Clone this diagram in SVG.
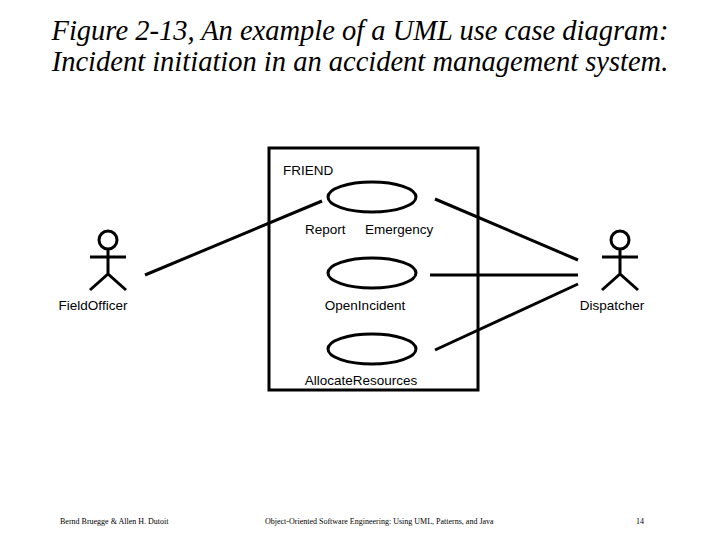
<svg xmlns="http://www.w3.org/2000/svg" width="720" height="540" viewBox="0 0 720 540">
<style>
.s{fill:none;stroke:#000;stroke-width:3}
.t{font-family:"Liberation Sans",Arial,sans-serif;font-size:13.5px;fill:#000}
.h{font-family:"Liberation Serif","Times New Roman",serif;font-style:italic;font-size:28.5px;fill:#000}
.f{font-family:"Liberation Serif","Times New Roman",serif;font-size:8px;fill:#000}
</style>
<rect width="720" height="540" fill="#fff"/>
<text class="h" x="360" y="40" text-anchor="middle">Figure 2-13, An example of a UML use case diagram:</text>
<text class="h" x="360" y="71" text-anchor="middle">Incident initiation in an accident management system.</text>
<g id="system"><rect class="s" x="269" y="148" width="209" height="242"/><text class="t" x="283" y="175">FRIEND</text></g>
<g id="report"><ellipse class="s" cx="372" cy="197" rx="44" ry="15"/><text class="t" x="305" y="234">Report</text><text class="t" x="365" y="234">Emergency</text></g>
<g id="open"><ellipse class="s" cx="372" cy="273" rx="44" ry="15"/><text class="t" x="365" y="310" text-anchor="middle">OpenIncident</text></g>
<g id="allocate"><ellipse class="s" cx="372" cy="349" rx="44" ry="15"/><text class="t" x="361" y="385" text-anchor="middle">AllocateResources</text></g>
<g id="fieldofficer"><circle class="s" cx="108" cy="240" r="9"/><path class="s" d="M108 249V274M90 257H126M90 290L108 274L126 290"/><text class="t" x="93" y="310" text-anchor="middle">FieldOfficer</text></g>
<g id="dispatcher"><circle class="s" cx="620" cy="240" r="9"/><path class="s" d="M620 249V274M602 257H638M602 290L620 274L638 290"/><text class="t" x="612" y="310" text-anchor="middle">Dispatcher</text></g>
<g id="connectors" class="s">
<line x1="145" y1="275" x2="322" y2="201"/>
<line x1="435" y1="199" x2="578" y2="260"/>
<line x1="430" y1="275" x2="578" y2="275"/>
<line x1="435" y1="350" x2="578" y2="284"/>
</g>
<text class="f" x="60" y="524">Bernd Bruegge &amp; Allen H. Dutoit</text>
<text class="f" x="265" y="524">Object-Oriented Software Engineering: Using UML, Patterns, and Java</text>
<text class="f" x="636" y="524">14</text>
</svg>
